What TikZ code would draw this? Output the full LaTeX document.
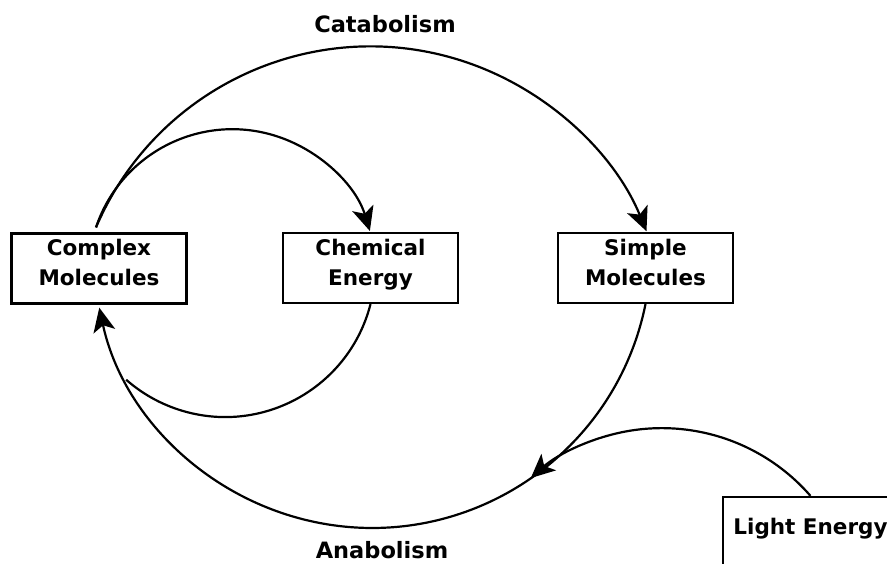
\documentclass[tikz,border=0pt]{standalone}
\usepackage{fontspec}
\setmainfont{DejaVu Sans}
\usetikzlibrary{arrows.meta}
\begin{document}
\begin{tikzpicture}[x=1pt,y=1pt,
  flow/.style={line width=2.2pt, -{Stealth[length=24pt,width=22pt,inset=6pt]}},
  plain/.style={line width=2.2pt},
  stage/.style={draw, line width=2.2pt, minimum width=175pt, minimum height=70pt,
    inner sep=0pt, align=center, font=\bfseries\fontsize{21.5}{30}\selectfont},
  twoline/.style={text height=45pt, text depth=10pt},
  oneline/.style={text height=15pt, text depth=9pt},
  phase/.style={font=\bfseries\fontsize{22.5}{27}\selectfont, inner sep=0pt}]
\clip (0,0) rectangle (887,564);

% boxes
\node[stage, twoline] (cm) at (99,295.5) {Complex\\Molecules};
\node[stage, twoline] (ce) at (370.5,296) {Chemical\\Energy};
\node[stage, twoline] (sm) at (645.5,296) {Simple\\Molecules};
\node[stage, oneline] (le) at (810.5,32) {Light Energy};

% phase names
\node[phase, anchor=base] (cat) at (385,531) {Catabolism};
\node[phase, anchor=base] (ana) at (382,5.5) {Anabolism};

% shared start above the complex molecules
\coordinate (fork) at ([xshift=-3pt,yshift=5pt]cm.north);

% catabolism: breakdown into simple molecules and release of energy
\draw[flow] (fork) arc[start angle=156.8, end angle=22.4, radius=298.6];
\draw[flow] (fork) arc[start angle=161.5, end angle=17, radius=143.8];

% energy fed back into synthesis
\draw[plain] (ce.south) arc[start angle=-14.3, end angle=-131.3, radius=150];

% anabolism: building complex molecules again
\draw[flow] (sm.south) arc[start angle=-11.4, end angle=-167.85, radius=279];

% light energy input
\draw[flow] (le.north) arc[start angle=41, end angle=131.7, radius=197];
\end{tikzpicture}
\end{document}
